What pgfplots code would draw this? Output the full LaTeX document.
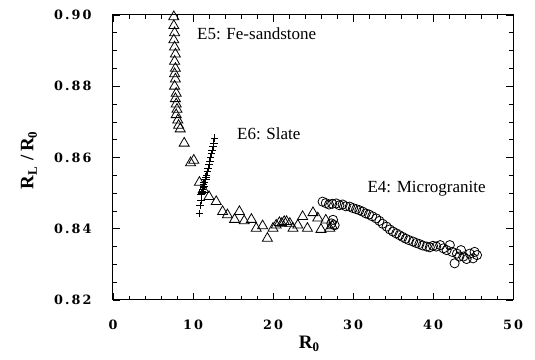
\documentclass[border=0pt]{standalone}
\usepackage{fontspec}
\setmainfont{Liberation Serif}
\newfontfamily\tickfont[LetterSpace=16]{DejaVu Serif}
\usepackage{pgfplots}
\pgfplotsset{compat=1.18}
\newcommand{\sub}[1]{\raisebox{-0.4ex}{\fontsize{13}{13}\selectfont #1}}
\begin{document}
\begin{tikzpicture}
\begin{axis}[
 scale only axis, width=400pt, height=285pt,
 xmin=0, xmax=50, ymin=0.82, ymax=0.90,
 xtick={0,10,20,30,40,50}, ytick={0.82,0.84,0.86,0.88,0.90},
 minor x tick num=4, minor y tick num=3,
 tick align=inside, major tick length=7pt, minor tick length=4pt,
 axis line style={line width=1pt}, tick style={line width=0.7pt, black},
 clip=false,
 /pgf/number format/assume math mode=true,
 yticklabel style={/pgf/number format/fixed, /pgf/number format/fixed zerofill, /pgf/number format/precision=2, xshift=-18pt},
 every tick label/.append style={font=\tickfont\bfseries\fontsize{12.8}{13}\selectfont},
 xticklabel style={yshift=-16pt},
 xlabel={\bfseries R\sub{\bfseries 0}},
 ylabel={\bfseries R\sub{\bfseries L}\,\,/\,R\sub{\bfseries 0}},
 every axis label/.append style={font=\fontsize{19}{20}\selectfont},
 xlabel style={at={(rel axis cs:0.49,-0.154)}, anchor=center},
 ylabel style={at={(rel axis cs:-0.21,0.49)}, anchor=center},
]
% E5: Fe-sandstone (triangles)
\addplot[only marks, mark=triangle, mark size=5.8pt, mark options={line width=0.8pt}] coordinates {
(7.6,0.8995)(7.6,0.897)(7.7,0.895)(7.6,0.893)(7.7,0.891)(7.8,0.889)(7.7,0.887)(7.8,0.885)
(7.7,0.8835)(7.8,0.882)(7.7,0.880)(7.9,0.878)(7.8,0.8765)(7.9,0.875)(8.0,0.8735)(7.9,0.872)
(8.1,0.8705)(8.2,0.869)(8.4,0.868)(8.9,0.864)(9.7,0.8585)(10.1,0.8592)(10.8,0.853)(11.3,0.851)
(12.0,0.849)(12.9,0.8476)(13.7,0.8448)(14.3,0.8439)(15.2,0.8426)(15.8,0.8448)(16.4,0.8422)
(17.3,0.8426)(17.9,0.8401)(18.7,0.8408)(19.3,0.8373)(20.0,0.8401)(20.4,0.841)(20.8,0.8417)
(21.1,0.8415)(21.4,0.842)(21.7,0.842)(22.1,0.8415)(22.5,0.8401)(23.1,0.841)(23.7,0.8434)
(24.3,0.8401)(25.0,0.8445)(25.6,0.843)(26.0,0.8398)(26.6,0.8424)(27.1,0.8401)(27.4,0.8408)
};
% E6: Slate (plus)
\addplot[only marks, mark=+, mark size=3.8pt, mark options={line width=0.9pt}] coordinates {
(10.8,0.8443)(10.9,0.8465)(11.0,0.848)(11.0,0.8495)(11.1,0.850)(11.2,0.851)(11.3,0.8515)
(11.3,0.8525)(11.4,0.853)(11.5,0.8537)(11.6,0.8545)(11.7,0.855)(11.8,0.856)(11.9,0.857)
(12.0,0.858)(12.1,0.859)(12.2,0.860)(12.3,0.861)(12.4,0.862)(12.5,0.863)(12.6,0.864)(12.7,0.8654)
(11.2,0.8505)(11.4,0.8520)(11.6,0.8538)
};
% E4: Microgranite (circles)
\addplot[only marks, mark=o, mark size=4.6pt, mark options={line width=0.8pt}] coordinates {
(26.2,0.8476)(26.6,0.8472)(27.0,0.8468)(27.4,0.8470)(27.9,0.8471)(28.3,0.8466)(28.7,0.8468)
(29.1,0.8463)(29.6,0.8462)(30.0,0.8458)(30.4,0.8455)(30.8,0.8452)(31.2,0.8448)(31.6,0.8443)
(32.0,0.8440)(32.4,0.8435)(32.9,0.8429)(33.3,0.8422)(33.7,0.8414)(34.2,0.8406)(34.6,0.8398)
(35.0,0.8392)(35.4,0.8387)(35.8,0.8382)(36.2,0.8377)(36.6,0.8372)(37.0,0.8368)(37.5,0.8364)
(37.9,0.8360)(38.3,0.8357)(38.7,0.8353)(39.2,0.8350)(39.6,0.8348)(40.0,0.8352)(40.4,0.8350)
(40.9,0.8354)(41.3,0.8345)(41.7,0.8340)(42.1,0.8354)(42.4,0.8335)(42.7,0.8303)(43.0,0.8330)
(43.3,0.8322)(43.8,0.8322)(44.2,0.8315)(44.6,0.8330)(45.0,0.8317)(45.5,0.8326)(45.2,0.8335)
(43.5,0.8340)(27.5,0.8425)(27.7,0.8410)(27.3,0.8415)
};
\node[anchor=west, inner sep=0pt, font=\fontsize{17}{18}\selectfont] at (axis cs:10.5,0.8947) {E5: Fe-sandstone};
\node[anchor=west, inner sep=0pt, font=\fontsize{17}{18}\selectfont] at (axis cs:15.5,0.8666) {E6: Slate};
\node[anchor=west, inner sep=0pt, font=\fontsize{17}{18}\selectfont] at (axis cs:31.8,0.8512) {E4: Microgranite};
\path (rel axis cs:-0.2825,-0.2105) rectangle (rel axis cs:1.055,1.0526);
\end{axis}
\end{tikzpicture}
\end{document}
